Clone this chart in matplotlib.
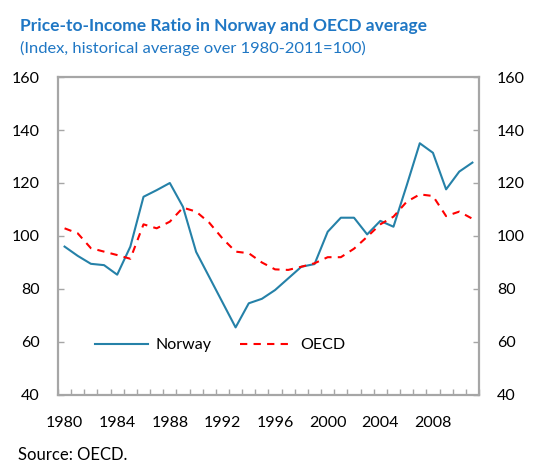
import numpy as np
import matplotlib
matplotlib.use("Agg")
from matplotlib import pyplot as plt
from matplotlib.ticker import MultipleLocator

plt.rcParams['font.family'] = ['Lato', 'DejaVu Sans']

years = list(range(1980, 2012))
norway = [96, 92.5, 89.5, 89, 85.4, 96, 114.8, 117.3, 120, 111, 94, 84.5, 75, 65.5,
          74.6, 76.3, 79.6, 84, 88.4, 89.4, 101.6, 106.9, 106.9, 100.6, 105.7, 103.5,
          119, 135, 131.4, 117.6, 124.3, 127.7]
oecd = [102.9, 101, 95.4, 94.1, 92.8, 91.4, 104.4, 102.9, 105.4, 110.7, 109.2, 105,
        99.1, 94.1, 93.5, 90, 87.4, 87.2, 88.4, 89.7, 92, 92, 95.2, 99.7, 104.4,
        107.3, 112.9, 115.7, 115.1, 107.5, 109.2, 106.5]
year_labels = [1980, 1984, 1988, 1992, 1996, 2000, 2004, 2008]
y_ticks = [40, 60, 80, 100, 120, 140, 160]

title_color = '#1f77c4'
axis_gray = '#a6a6a6'

fig = plt.figure(figsize=(5.35, 4.71), dpi=100)
ax = fig.add_axes([0.1084, 0.1614, 0.7869, 0.6751])

ax.plot(years, norway, color='#2581a8', lw=1.5, label='Norway')
ax.plot(years, oecd, color='#ff0000', lw=1.5, ls=(0, (3.5, 3)), label='OECD')

ax.set_xlim(1979.5, 2011.5)
ax.set_ylim(40, 160)
ax.set_yticks(y_ticks)
ax.set_xticks(year_labels)
ax.xaxis.set_minor_locator(MultipleLocator(1, offset=0.5))

for s in ax.spines.values():
    s.set_color(axis_gray)
    s.set_linewidth(1.6)

ax.tick_params(axis='y', which='major', direction='in', length=4, width=1,
               color=axis_gray, labelsize=11.5, pad=13, right=True, labelright=True)
ax.tick_params(axis='x', which='major', length=0, labelsize=11.5, pad=15)
ax.tick_params(axis='x', which='minor', direction='in', length=4, width=1,
               color=axis_gray)

leg = ax.legend(loc='center', bbox_to_anchor=(0.386, 0.157), ncol=2, frameon=False,
                fontsize=11.5, handlelength=3.3, columnspacing=1.75, handletextpad=0.5)

fig.text(0.037, 0.945, 'Price-to-Income Ratio in Norway and OECD average',
         color=title_color, fontsize=12.55, fontweight='bold', va='center')
fig.text(0.037, 0.898, '(Index, historical average over 1980-2011=100)',
         color=title_color, fontsize=11.85, va='center')
fig.text(0.034, 0.033, 'Source: OECD.', fontsize=12, va='center')

fig.savefig('out.png', dpi=100)
